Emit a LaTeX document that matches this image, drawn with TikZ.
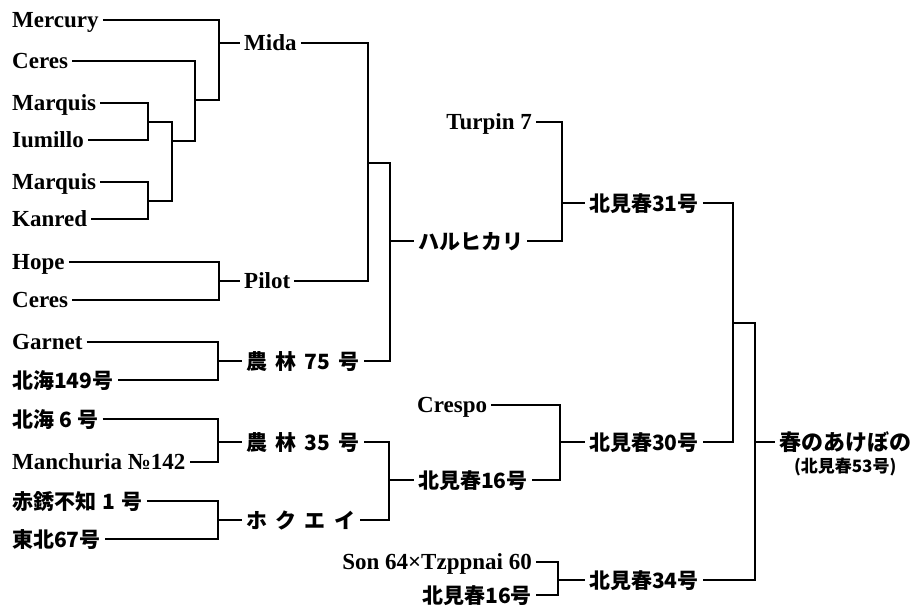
\documentclass[tikz,border=0pt]{standalone}
\usepackage{fontspec}
\setmainfont{Liberation Serif}
\newfontfamily\jpfont{Noto Sans CJK JP}
\usetikzlibrary{positioning}
\newcommand{\pedbracket}[3]{%
  \draw[link] (#1) -| (#3) |- (#2);%
}
\tikzset{
  link/.style={line width=1.5pt},
  latin/.style={inner sep=4pt,font=\bfseries\fontsize{23}{26}\selectfont,text height=15pt,text depth=0pt},
  kanji/.style={inner sep=4pt,font=\jpfont\bfseries\fontsize{21}{24}\selectfont,text height=16pt,text depth=0pt},
}

\begin{document}
\begin{tikzpicture}[x=1pt,y=-1pt]
  \useasboundingbox (0,0) rectangle (921,611);
  % grandparents, left column
  \foreach \n/\y/\lbl in {merc/20/Mercury,cerA/61/Ceres,marqA/103/Marquis,ium/140/Iumillo,marqB/182/Marquis,kan/219/Kanred,hope/262/Hope,cerB/300/Ceres,garn/342/Garnet}
    \node[latin,anchor=west] (\n) at (8,\y) {\lbl};
  \node[kanji,anchor=west] (hk149) at (8,380) {北海149号};
  \node[kanji,anchor=west] (hk6) at (8,419) {北海\hspace{.25em}6\hspace{.25em}号};
  \node[latin,anchor=west] (manch) at (8,462) {Manchuria №142};
  \node[kanji,anchor=west] (aka) at (8,501) {赤銹不知\hspace{.3em}1\hspace{.3em}号};
  \node[kanji,anchor=west] (toh67) at (8,539) {東北67号};
  % second column
  \node[latin,anchor=west] (mida) at (240,43) {Mida};
  \node[latin,anchor=west] (pilot) at (240,281) {Pilot};
  \node[kanji,anchor=west] (n75) at (242,361) {農\hspace{.4em}林\hspace{.4em}75\hspace{.4em}号};
  \node[kanji,anchor=west] (n35) at (242,442) {農\hspace{.4em}林\hspace{.4em}35\hspace{.4em}号};
  \node[kanji,anchor=west] (hokuei) at (242,520) {ホ\hspace{.4em}ク\hspace{.4em}エ\hspace{.4em}イ};
  % third column
  \node[kanji,anchor=west] (haru) at (414,241) {ハルヒカリ};
  \node[latin,anchor=east] (turpin) at (536,122) {Turpin 7};
  \node[latin,anchor=west] (crespo) at (413,405) {Crespo};
  \node[kanji,anchor=west] (ks16a) at (414,480) {北見春16号};
  \node[latin,anchor=east] (son) at (536,562) {Son 64×Tzppnai 60};
  \node[kanji,anchor=east] (ks16b) at (536,595) {北見春16号};
  % fourth column and the cross
  \node[kanji,anchor=west] (ks31) at (585,203) {北見春31号};
  \node[kanji,anchor=west] (ks30) at (585,442) {北見春30号};
  \node[kanji,anchor=west] (ks34) at (585,580) {北見春34号};
  \node[kanji,anchor=west,font=\jpfont\bfseries\fontsize{22}{24}\selectfont,text height=17pt] (akebono) at (775,442) {春のあけぼの};
  \node[inner sep=1pt,font=\jpfont\bfseries\fontsize{17}{19}\selectfont,below=2pt of akebono] (ks53) {(北見春53号)};

  \coordinate (jMI) at (148,122);
  \coordinate (jMK) at (148,201);
  \coordinate (jQ) at (172,141);
  \coordinate (jC) at (195,100);
  \coordinate (jM) at (219,43);
  \coordinate (jP) at (219,281);
  \coordinate (jN75) at (218,361);
  \coordinate (jN35) at (218,442);
  \coordinate (jHK) at (218,520);
  \coordinate (jMP) at (368,163);
  \coordinate (jH) at (390,241);
  \coordinate (jS16) at (389,480);
  \coordinate (j31) at (562,203);
  \coordinate (j30) at (560,442);
  \coordinate (j34) at (558,580);
  \coordinate (jTop) at (733,323);
  \coordinate (jF) at (755,442);

  \pedbracket{marqA.east}{ium.east}{jMI}
  \pedbracket{marqB.east}{kan.east}{jMK}
  \pedbracket{jMI}{jMK}{jQ}
  \pedbracket{cerA.east}{jQ}{jC}
  \pedbracket{merc.east}{jC}{jM}
  \draw[link] (jM) -- (mida.west);
  \pedbracket{hope.east}{cerB.east}{jP}
  \draw[link] (jP) -- (pilot.west);
  \pedbracket{garn.east}{hk149.east}{jN75}
  \draw[link] (jN75) -- (n75.west);
  \pedbracket{hk6.east}{manch.east}{jN35}
  \draw[link] (jN35) -- (n35.west);
  \pedbracket{aka.east}{toh67.east}{jHK}
  \draw[link] (jHK) -- (hokuei.west);
  \pedbracket{mida.east}{pilot.east}{jMP}
  \pedbracket{jMP}{n75.east}{jH}
  \draw[link] (jH) -- (haru.west);
  \pedbracket{n35.east}{hokuei.east}{jS16}
  \draw[link] (jS16) -- (ks16a.west);
  \pedbracket{turpin.east}{haru.east}{j31}
  \draw[link] (j31) -- (ks31.west);
  \pedbracket{crespo.east}{ks16a.east}{j30}
  \draw[link] (j30) -- (ks30.west);
  \pedbracket{son.east}{ks16b.east}{j34}
  \draw[link] (j34) -- (ks34.west);
  \pedbracket{ks31.east}{ks30.east}{jTop}
  \pedbracket{jTop}{ks34.east}{jF}
  \draw[link] (jF) -- (akebono.west);
\end{tikzpicture}
\end{document}
